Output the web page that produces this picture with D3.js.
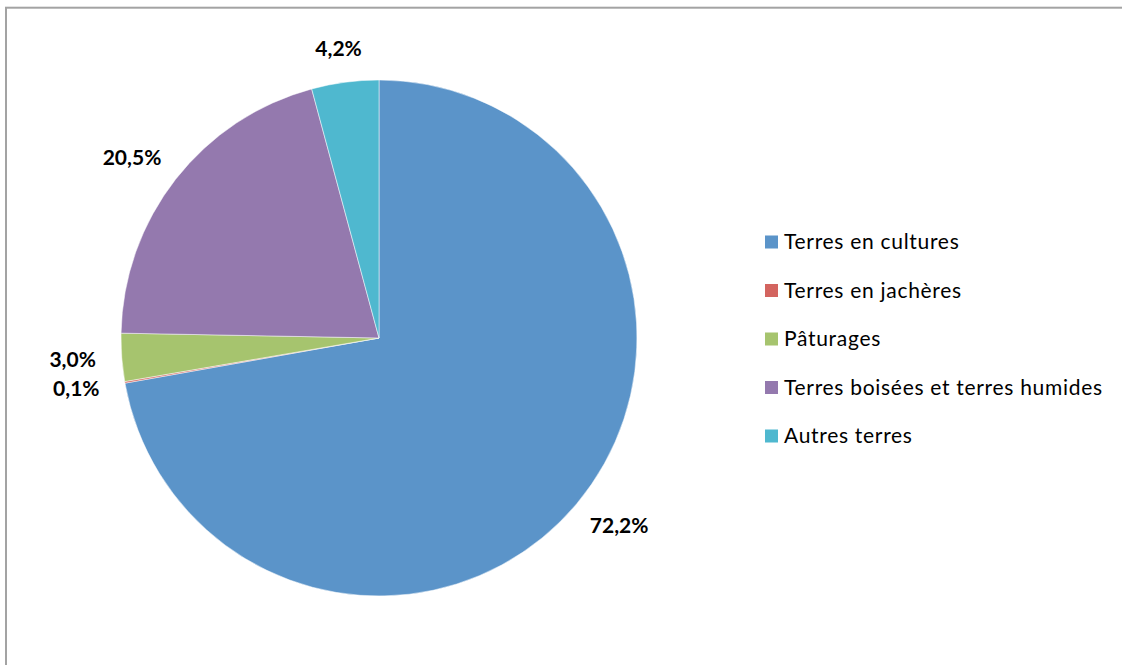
<!DOCTYPE html>
<html>
<head>
<meta charset="utf-8">
<script src="https://cdn.jsdelivr.net/npm/d3@7"></script>
<style>
  body { margin: 0; background: #fff; }
  svg { display: block; }
</style>
</head>
<body>
<div id="chart"></div>
<script>
// data
var categories = ["Terres en cultures", "Terres en jachères", "Pâturages", "Terres boisées et terres humides", "Autres terres"];
var values = [72.2, 0.1, 3.0, 20.5, 4.2];
var labels = ["72,2%", "0,1%", "3,0%", "20,5%", "4,2%"];
var colors = ["#5b94c9", "#d3645f", "#a6c46e", "#9479ae", "#4fb8cf"];

var width = 1122, height = 665;

var svg = d3.select("#chart")
  .append("svg")
    .attr("width", width)
    .attr("height", height);

// chart frame
svg.append("rect")
  .attr("x", 6)
  .attr("y", 7.7)
  .attr("width", 1300)
  .attr("height", 900)
  .attr("fill", "#fff")
  .attr("stroke", "#a3a3a3")
  .attr("stroke-width", 2);

var cx = 379, cy = 338, radius = 258;

var pie = d3.pie().sort(null).value(function(d) { return d; });
var arcs = pie(values);

var arc = d3.arc().innerRadius(0).outerRadius(radius);
var labelArc = d3.arc().innerRadius(284).outerRadius(284);

var g = svg.append("g")
  .attr("transform", "translate(" + cx + "," + cy + ")");

g.selectAll("path.slice")
  .data(arcs)
  .enter().append("path")
    .attr("class", "slice")
    .attr("d", arc)
    .attr("fill", function(d, i) { return colors[i]; })
    .attr("stroke", "#fff")
    .attr("stroke-width", 0.5);

// labels just outside each slice, shifted by half their box
var fs = 21;
g.selectAll("text.lbl")
  .data(arcs)
  .enter().append("text")
    .attr("class", "lbl")
    .attr("font-family", "Lato, 'Open Sans', sans-serif")
    .attr("font-weight", "bold")
    .attr("font-size", fs + "px")
    .attr("fill", "#000")
    .attr("text-anchor", "middle")
    .attr("dy", "0.35em")
    .text(function(d, i) { return labels[i]; })
    .attr("transform", function(d) {
      var a = (d.startAngle + d.endAngle) / 2;
      var p = labelArc.centroid(d);
      var w = this.getComputedTextLength();
      var x = p[0] + (w / 2) * Math.sin(a);
      var y = p[1] - (fs * 0.4) * Math.cos(a);
      return "translate(" + x + "," + y + ")";
    });

// legend
var legendY = d3.scalePoint()
  .domain(categories)
  .range([242, 436]);

var legend = svg.append("g")
  .attr("class", "legend");

var item = legend.selectAll("g")
  .data(categories)
  .enter().append("g")
    .attr("transform", function(d) { return "translate(765," + legendY(d) + ")"; });

item.append("rect")
  .attr("x", 0)
  .attr("y", -6.5)
  .attr("width", 13)
  .attr("height", 13)
  .attr("fill", function(d, i) { return colors[i]; });

item.append("text")
  .attr("x", 19)
  .attr("dy", "0.35em")
  .attr("font-family", "Lato, 'Open Sans', sans-serif")
  .attr("font-size", "21px")
  .attr("letter-spacing", "0.7px")
  .attr("fill", "#000")
  .text(function(d) { return d; });
</script>
</body>
</html>
